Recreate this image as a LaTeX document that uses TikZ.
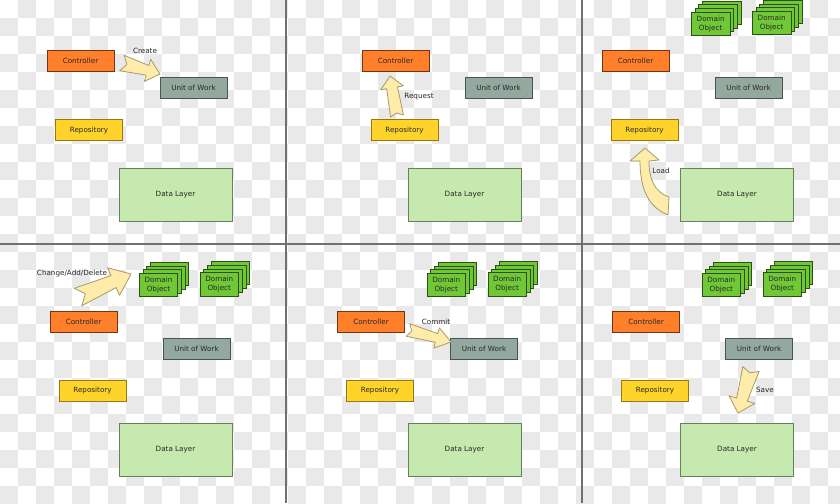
\documentclass[tikz,border=0pt]{standalone}
\usepackage{fontspec}
\setmainfont{DejaVu Sans}
\usetikzlibrary{calc}
\definecolor{chk}{RGB}{233,233,233}
\definecolor{gridc}{RGB}{112,112,112}
\definecolor{txt}{RGB}{40,40,40}
\definecolor{ctrlfill}{RGB}{255,127,42}
\definecolor{ctrldraw}{RGB}{110,55,20}
\definecolor{uowfill}{RGB}{147,168,159}
\definecolor{uowdraw}{RGB}{70,85,80}
\definecolor{repofill}{RGB}{255,212,42}
\definecolor{repodraw}{RGB}{150,120,20}
\definecolor{dlfill}{RGB}{198,233,175}
\definecolor{dldraw}{RGB}{100,130,90}
\definecolor{dofill}{RGB}{113,200,55}
\definecolor{dodraw}{RGB}{45,80,22}
\definecolor{arfill}{RGB}{255,235,170}
\definecolor{ardraw}{RGB}{165,155,110}
\tikzset{
  box/.style={draw, line width=0.9pt, inner sep=0pt, text=txt, font=\fontsize{7.2}{8.6}\selectfont},
  ctrl/.style={box, fill=ctrlfill, draw=ctrldraw, minimum width=67pt, minimum height=21pt},
  uow/.style={box, fill=uowfill, draw=uowdraw, minimum width=67pt, minimum height=21pt},
  repo/.style={box, fill=repofill, draw=repodraw, minimum width=67pt, minimum height=21pt},
  dlayer/.style={box, fill=dlfill, draw=dldraw, minimum width=113pt, minimum height=53pt},
  dobj/.style={box, fill=dofill, draw=dodraw, minimum width=38.5pt, minimum height=23.3pt, align=center},
  dback/.style={fill=dofill, draw=dodraw, line width=0.9pt},
  fat/.style={fill=arfill, draw=ardraw, line width=0.8pt, line join=round},
  lbl/.style={text=txt, inner sep=0pt, font=\fontsize{7.2}{8.6}\selectfont},
  gridline/.style={draw=gridc, line width=1.3pt}
}
\newcommand\dstack[3]{%
  \foreach \k in {3,2,1}{%
    \path[dback] ($(#2,#3)+(\k*3.7-19.25,-\k*3.7-11.65)$) rectangle ++(38.5,23.3);
  }
  \node[dobj] (#1) at (#2,#3) {Domain\\Object};
}
% tail, tip, tail half width, shaft half width, head half width, head length, notch
\newcommand\fatarrow[7]{%
  \coordinate (fa-t) at #1;
  \coordinate (fa-p) at #2;
  \coordinate (fa-b) at ($(fa-p)!#6!(fa-t)$);
  \path[fat] ($(fa-t)!#3!90:(fa-p)$) -- ($(fa-b)!#4!90:(fa-p)$) -- ($(fa-b)!#5!90:(fa-p)$)
    -- (fa-p) -- ($(fa-b)!#5!-90:(fa-p)$) -- ($(fa-b)!#4!-90:(fa-p)$)
    -- ($(fa-t)!#3!-90:(fa-p)$) -- ($(fa-t)!#7!(fa-p)$) -- cycle;
}
\begin{document}
\begin{tikzpicture}[x=1pt,y=-1pt]
\useasboundingbox (0,0) rectangle (840,503);
% checkerboard background
\begin{scope}
\clip (0,0) rectangle (840,503);
\fill[white] (0,0) rectangle (840,503);
\foreach \j in {0,...,27}{
  \pgfmathtruncatemacro\chkoff{mod(\j+1,2)}
  \foreach \i in {0,...,23}{
    \fill[chk] (\i*36+\chkoff*18,\j*18) rectangle ++(18,18);
  }
}
\end{scope}
% panel separators
\path[gridline] (286,0) -- (286,503);
\path[gridline] (582,0) -- (582,503);
\path[gridline] (0,244) -- (840,244);

% ---------- Panel 1: Create ----------
\node[ctrl] (c1) at (80.5,61.2) {Controller};
\node[uow] (u1) at (193.5,87.7) {Unit of Work};
\node[repo] (r1) at (89,130.2) {Repository};
\node[dlayer] (d1) at (175.5,194.7) {Data Layer};
\fatarrow{(122,63)}{(160,74)}{8pt}{5pt}{11.5pt}{13pt}{5pt}
\node[lbl] (l1) at (145,51) {Create};

% ---------- Panel 2: Request ----------
\node[ctrl] (c2) at (395.5,61.2) {Controller};
\node[uow] (u2) at (498.5,87.7) {Unit of Work};
\node[repo] (r2) at (404.5,130.2) {Repository};
\node[dlayer] (d2) at (464.5,194.7) {Data Layer};
\fatarrow{(397,116)}{(390,76)}{6.5pt}{5.5pt}{11.5pt}{12pt}{3pt}
\node[lbl] (l2) at (419,97) {Request};

% ---------- Panel 3: Load ----------
\node[ctrl] (c3) at (635.5,61.2) {Controller};
\node[uow] (u3) at (748.5,87.7) {Unit of Work};
\node[repo] (r3) at (644.5,130.2) {Repository};
\node[dlayer] (d3) at (737,194.7) {Data Layer};
\dstack{o31}{710.7}{24}
\dstack{o32}{771.7}{23.3}
\path[fat] (669,197) .. controls (654,192) and (649,178) .. (649,161) -- (659,160) -- (645,148)
  -- (630,161) -- (640,161) .. controls (640,188) and (648,207) .. (668,215) -- cycle;
\node[lbl] (l3) at (661,171) {Load};

% ---------- Panel 4: Change/Add/Delete ----------
\node[ctrl] (c4) at (83.5,322.2) {Controller};
\node[uow] (u4) at (196.5,348.7) {Unit of Work};
\node[repo] (r4) at (92.5,390.7) {Repository};
\node[dlayer] (d4) at (175.5,449.7) {Data Layer};
\dstack{o41}{158.5}{285}
\dstack{o42}{219.3}{284.3}
\fatarrow{(78,297)}{(131,274)}{9.5pt}{6.5pt}{15pt}{19pt}{8pt}
\node[lbl] (l4) at (72,274) {Change/Add/Delete};

% ---------- Panel 5: Commit ----------
\node[ctrl] (c5) at (371,322.2) {Controller};
\node[uow] (u5) at (484,348.7) {Unit of Work};
\node[repo] (r5) at (380,390.7) {Repository};
\node[dlayer] (d5) at (464.5,449.7) {Data Layer};
\dstack{o51}{446.3}{285}
\dstack{o52}{507.2}{284.3}
\fatarrow{(408,330)}{(451,342)}{6.5pt}{4.5pt}{10.5pt}{15pt}{4pt}
\node[lbl] (l5) at (436,322) {Commit};

% ---------- Panel 6: Save ----------
\node[ctrl] (c6) at (646,322.2) {Controller};
\node[uow] (u6) at (759,348.7) {Unit of Work};
\node[repo] (r6) at (655,390.7) {Repository};
\node[dlayer] (d6) at (737,449.7) {Data Layer};
\dstack{o61}{721.3}{285}
\dstack{o62}{782.3}{284.3}
\fatarrow{(751,369)}{(738,413)}{8.5pt}{5.5pt}{13.5pt}{14pt}{4pt}
\node[lbl] (l6) at (765,390) {Save};
\end{tikzpicture}
\end{document}
